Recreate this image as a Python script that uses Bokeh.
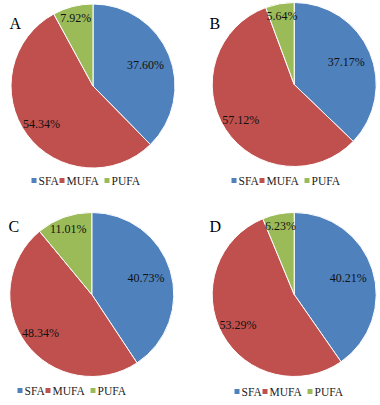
from math import pi, sin, cos

from bokeh.core.properties import value
from bokeh.embed import file_html
from bokeh.models import ColumnDataSource, Range1d
from bokeh.plotting import figure
from bokeh.resources import INLINE

# Fatty acid composition (%) for the four samples
panels = ["A", "B", "C", "D"]
categories = ["SFA", "MUFA", "PUFA"]
sfa = [37.60, 37.17, 40.73, 40.21]
mufa = [54.34, 57.12, 48.34, 53.29]
pufa = [7.92, 5.64, 11.01, 6.23]
colors = ["#4F81BD", "#C0504D", "#9BBB59"]

W, H = 380, 405
FONT = "Liberation Serif"

# Layout in page pixels (measured from the top-left corner)
centers = [(92.5, 85.5), (293.7, 84.0), (91.3, 294.0), (293.7, 294.0)]
radius = 82.0
letter_pos = [(9, 23), (209, 23), (8, 226), (209, 226)]
legend_pos = [(31, 180), (231, 180), (17, 390), (234, 391)]
legend_offsets = [0, 28, 73]          # square positions within a legend row
label_frac = [0.69, 0.78, 0.85]       # label distance from centre, share of radius

p = figure(width=W, height=H, x_range=Range1d(0, W), y_range=Range1d(0, H),
           output_backend="svg", toolbar_location=None, min_border=0)
p.axis.visible = False
p.grid.visible = False
p.outline_line_color = None
p.background_fill_color = "white"


def fy(y):
    return H - y


for i, name in enumerate(panels):
    vals = [sfa[i], mufa[i], pufa[i]]
    total = sum(vals)
    cx, cy = centers[i]
    starts, ends, lx, ly, texts = [], [], [], [], []
    cum = 0.0
    for j, v in enumerate(vals):
        a0 = pi / 2 - 2 * pi * cum / total
        cum += v
        a1 = pi / 2 - 2 * pi * cum / total
        starts.append(a0)
        ends.append(a1)
        mid = (a0 + a1) / 2
        r = radius * label_frac[j]
        lx.append(cx + r * cos(mid))
        ly.append(fy(cy) + r * sin(mid))
        texts.append(f"{v:.2f}%")
    src = ColumnDataSource(dict(x=[cx] * 3, y=[fy(cy)] * 3, start=starts, end=ends,
                                color=colors, lx=lx, ly=ly, text=texts))
    p.wedge(x="x", y="y", radius=radius, start_angle="start", end_angle="end",
            direction="clock", fill_color="color", line_color="white",
            line_width=1, source=src)
    p.text(x="lx", y="ly", text="text", source=src, text_font=value(FONT),
           text_font_size="12px", text_color="#111111", text_align="center",
           text_baseline="middle")

    # panel letter
    p.text(x=[letter_pos[i][0]], y=[fy(letter_pos[i][1])], text=[name],
           text_font=value(FONT), text_font_size="16px", text_color="black",
           text_align="left", text_baseline="middle")

    # legend row
    x0, y0 = legend_pos[i]
    sx = [x0 + o + 2.5 for o in legend_offsets]
    p.rect(x=sx, y=[fy(y0)] * 3, width=5, height=5, fill_color=colors,
           line_color=None)
    p.text(x=[s + 4.5 for s in sx], y=[fy(y0)] * 3, text=categories,
           text_font=value(FONT), text_font_size="11.5px", text_color="#222222",
           text_align="left", text_baseline="middle")

open("out.html", "w").write(file_html(p, INLINE))
